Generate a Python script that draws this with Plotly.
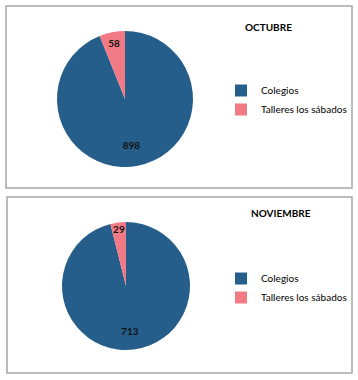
import plotly.graph_objects as go

W, H = 358, 380

labels = ["Colegios", "Talleres los sábados"]
octubre_values = [898, 58]
noviembre_values = [713, 29]
titles = ["OCTUBRE", "NOVIEMBRE"]
colors = ["#255E8A", "#F27A84"]

# second legend needs its own (visually identical) label entries
labels_nov = [l + "\u200b" for l in labels]

def px(x0, x1):
    return [x0 / W, x1 / W]

def py(top, bottom):
    return [1 - bottom / H, 1 - top / H]

FONT = "Lato"
LEG_FONT = "Lato"

# push the large-slice label outward (Excel places it further from the centre)
_pad = "<span style='color:rgba(0,0,0,0)'>0</span><br>"
label_tpl = [_pad + _pad + "%{value}", "%{value}"]

fig = go.Figure()
fig.add_trace(go.Pie(
    labels=labels, values=octubre_values, sort=False, direction="clockwise", rotation=0,
    marker=dict(colors=colors, line=dict(width=0)),
    texttemplate=label_tpl, textposition="inside", insidetextorientation="horizontal",
    textfont=dict(family=FONT, size=10, color="#111111", weight="bold"),
    domain=dict(x=px(57, 193), y=py(31, 167)),
    legend="legend", hoverinfo="label+value",
))
fig.add_trace(go.Pie(
    labels=labels_nov, values=noviembre_values, sort=False, direction="clockwise", rotation=0,
    marker=dict(colors=colors, line=dict(width=0)),
    texttemplate=label_tpl, textposition="inside", insidetextorientation="horizontal",
    textfont=dict(family=FONT, size=10, color="#111111", weight="bold"),
    domain=dict(x=px(62, 190), y=py(222, 350)),
    legend="legend2", hoverinfo="label+value",
))

shapes = [
    dict(type="rect", xref="paper", yref="paper", x0=6 / W, x1=352 / W, y0=1 - 188 / H, y1=1 - 6 / H,
         line=dict(color="#A6A6A6", width=1.5), fillcolor="rgba(0,0,0,0)"),
    dict(type="rect", xref="paper", yref="paper", x0=7 / W, x1=352 / W, y0=1 - 373 / H, y1=1 - 197 / H,
         line=dict(color="#A6A6A6", width=1.5), fillcolor="rgba(0,0,0,0)"),
]

annotations = [
    dict(text="<b>%s</b>" % titles[0], x=268 / W, y=1 - 27 / H, xref="paper", yref="paper",
         showarrow=False, xanchor="center", yanchor="middle",
         font=dict(family=FONT, size=10, color="#000000")),
    dict(text="<b>%s</b>" % titles[1], x=281 / W, y=1 - 213 / H, xref="paper", yref="paper",
         showarrow=False, xanchor="center", yanchor="middle",
         font=dict(family=FONT, size=10, color="#000000")),
]

legend_common = dict(
    font=dict(family=LEG_FONT, size=10, color="#000000"), bgcolor="rgba(0,0,0,0)",
    itemwidth=30, tracegroupgap=4, xanchor="left", yanchor="middle",
    itemclick=False, itemdoubleclick=False,
)

fig.update_layout(
    width=W, height=H, margin=dict(l=0, r=0, t=0, b=0),
    paper_bgcolor="white", plot_bgcolor="white",
    shapes=shapes, annotations=annotations,
    uniformtext=dict(minsize=10, mode="show"),
    legend=dict(x=221 / W, y=1 - 100 / H, **legend_common),
    legend2=dict(x=221 / W, y=1 - 288 / H, **legend_common),
    showlegend=True,
)

fig.write_html("out.html", config={"displayModeBar": False},
               post_script="document.body.style.margin='0';")
